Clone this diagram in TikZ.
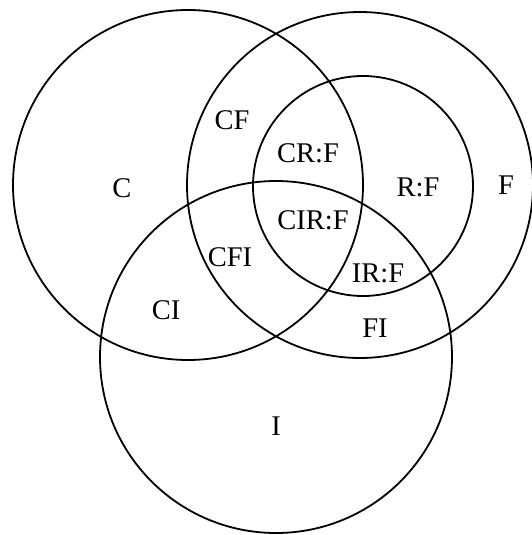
\documentclass[tikz,border=0pt]{standalone}
\usepackage{fontspec}
\setmainfont{Liberation Serif}
\begin{document}
\begin{tikzpicture}[x=1pt,y=-1pt,
  ring/.style={draw=black,line width=1.8pt},
  lbl/.style={font=\fontsize{28.5}{31}\selectfont,inner sep=0pt}]
\useasboundingbox (0,0) rectangle (532,535);
% the four sets
\draw[ring] (188,185) circle[radius=175];
\draw[ring] (360,185) circle[radius=173];
\draw[ring] (276,357) circle[radius=176];
\draw[ring] (363,186) circle[radius=110];
% region labels
\node[lbl] (c) at (122,188) {C};
\node[lbl] (cf) at (232,120) {CF};
\node[lbl] (cfi) at (230,257) {CFI};
\node[lbl] (crf) at (308,153) {CR:F};
\node[lbl] (cirf) at (313,220) {CIR:F};
\node[lbl] (rf) at (418,187) {R:F};
\node[lbl] (f) at (506,185) {F};
\node[lbl] (ci) at (166,310) {CI};
\node[lbl] (irf) at (378,273) {IR:F};
\node[lbl] (fi) at (375,328) {FI};
\node[lbl] (i) at (276,426) {I};
\end{tikzpicture}
\end{document}
